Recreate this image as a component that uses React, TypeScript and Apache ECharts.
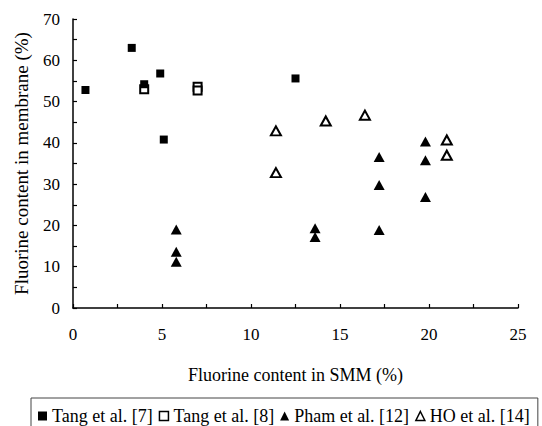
import React, { useEffect, useRef } from "react";
import * as echarts from "echarts";

const seriesNames = ["Tang et al. [7]", "Tang et al. [8]", "Pham et al. [12]", "HO et al. [14]"];

const tang7X = [0.7, 3.3, 4.0, 4.9, 5.1, 12.5];
const tang7Y = [52.8, 63.0, 54.2, 56.8, 40.8, 55.6];

const tang8X = [4.0, 7.0, 7.0];
const tang8Y = [53.0, 53.6, 52.7];

const phamX = [5.8, 5.8, 5.8, 13.6, 13.6, 17.2, 17.2, 17.2, 19.8, 19.8, 19.8];
const phamY = [19.0, 13.6, 11.2, 19.3, 17.2, 36.6, 29.8, 18.9, 40.3, 35.8, 26.9];

const hoX = [11.4, 11.4, 14.2, 16.4, 21.0, 21.0];
const hoY = [42.9, 32.8, 45.3, 46.7, 40.7, 37.0];

const xLabels = ["0", "5", "10", "15", "20", "25"];
const yLabels = ["0", "10", "20", "30", "40", "50", "60", "70"];

const xName = "Fluorine content in SMM (%)";
const yName = "Fluorine content in membrane (%)";

const FONT = "Liberation Serif";

const zip = (xs: number[], ys: number[]) => xs.map((x, i) => [x, ys[i]]);

export default function App() {
  const ref = useRef<HTMLDivElement>(null);
  useEffect(() => {
    if (!ref.current) return;
    const chart = echarts.init(ref.current, null, { renderer: "svg" });
    const filled = { color: "#000", opacity: 1 };
    const open = { color: "#fff", borderColor: "#000", borderWidth: 2, opacity: 1 };
    chart.setOption({
      animation: false,
      backgroundColor: "#fff",
      textStyle: { fontFamily: FONT, color: "#000" },
      grid: { left: 73, right: 24, top: 19, bottom: 118, containLabel: false },
      legend: {
        left: 31,
        top: 398,
        padding: [9, 8, 30, 7],
        itemWidth: 9,
        itemHeight: 9,
        itemGap: 6,
        borderColor: "#444",
        borderWidth: 1,
        textStyle: { fontFamily: FONT, fontSize: 18, color: "#000", padding: [0, 0, 0, 0] },
        data: [
          { name: seriesNames[0], icon: "rect", itemStyle: { color: "#000", opacity: 1 } },
          { name: seriesNames[1], icon: "rect", itemStyle: { color: "#fff", borderColor: "#000", borderWidth: 1.5, opacity: 1 } },
          { name: seriesNames[2], icon: "triangle", itemStyle: { color: "#000", opacity: 1 } },
          { name: seriesNames[3], icon: "triangle", itemStyle: { color: "#fff", borderColor: "#000", borderWidth: 1.5, opacity: 1 } },
        ],
      },
      xAxis: {
        type: "value",
        min: 0,
        max: 25,
        interval: 2.5,
        name: xName,
        nameLocation: "middle",
        nameGap: 58,
        nameTextStyle: { fontFamily: FONT, fontSize: 18, color: "#000" },
        axisLine: { show: true, lineStyle: { color: "#000", width: 1.5 } },
        axisTick: { show: true, inside: true, length: 4, lineStyle: { color: "#000", width: 1.2 } },
        splitLine: { show: false },
        axisLabel: {
          fontFamily: FONT,
          fontSize: 17,
          color: "#000",
          margin: 18,
          formatter: (v: number) => {
            const s = String(Math.round(v));
            return Math.abs(v % 5) < 1e-6 && xLabels.includes(s) ? s : "";
          },
        },
      },
      yAxis: {
        type: "value",
        min: 0,
        max: 70,
        interval: 5,
        name: yName,
        nameLocation: "middle",
        nameGap: 42,
        nameTextStyle: { fontFamily: FONT, fontSize: 19, color: "#000" },
        axisLine: { show: true, lineStyle: { color: "#000", width: 1.5 } },
        axisTick: { show: true, inside: true, length: 4, lineStyle: { color: "#000", width: 1.2 } },
        splitLine: { show: false },
        axisLabel: {
          fontFamily: FONT,
          fontSize: 17,
          color: "#000",
          margin: 13,
          formatter: (v: number) => {
            const s = String(Math.round(v));
            return Math.abs(v % 10) < 1e-6 && yLabels.includes(s) ? s : "";
          },
        },
      },
      series: [
        {
          name: seriesNames[0],
          type: "scatter",
          symbol: "rect",
          symbolSize: 8,
          z: 4,
          itemStyle: filled,
          data: zip(tang7X, tang7Y),
        },
        {
          name: seriesNames[1],
          type: "scatter",
          symbol: "rect",
          symbolSize: 8,
          z: 3,
          itemStyle: open,
          data: zip(tang8X, tang8Y),
        },
        {
          name: seriesNames[2],
          type: "scatter",
          symbol: "triangle",
          symbolSize: [11, 10],
          z: 3,
          itemStyle: filled,
          data: zip(phamX, phamY),
        },
        {
          name: seriesNames[3],
          type: "scatter",
          symbol: "triangle",
          symbolSize: [10, 9],
          z: 3,
          itemStyle: open,
          data: zip(hoX, hoY),
        },
      ],
    });
    return () => chart.dispose();
  }, []);
  return (
    <div
      ref={ref}
      style={{ position: "fixed", left: 0, top: 0, width: 542, height: 426, background: "#fff" }}
    />
  );
}
